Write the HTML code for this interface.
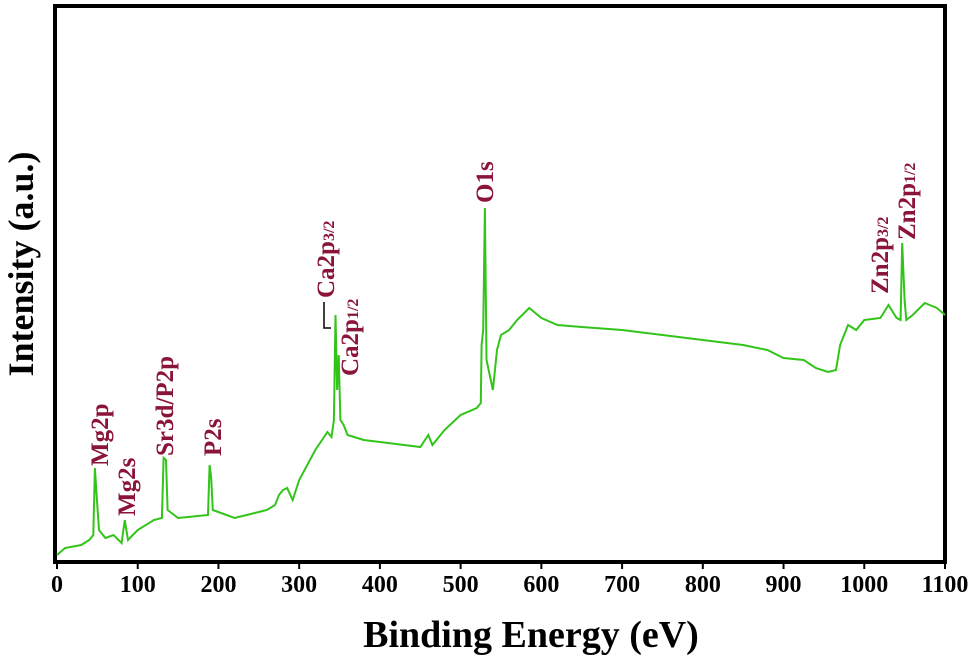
<!DOCTYPE html>
<html><head><meta charset="utf-8"><style>
html,body{margin:0;padding:0;background:#fff;}
svg{display:block;font-family:"Liberation Serif",serif;}
.tick{font-size:24px;font-weight:bold;fill:#000;}
.pk{font-size:25px;font-weight:bold;fill:#8a1538;}
.sub{font-size:16px;}
</style></head><body>
<svg id="chart" width="979" height="666" viewBox="0 0 979 666">
<rect x="55" y="6" width="890" height="556" fill="none" stroke="#000" stroke-width="4"/>
<g id="xticks"></g>
<path id="spectrum" fill="none" stroke="#33c41a" stroke-width="2"/>
<text x="531" y="647" text-anchor="middle" style="font-size:38px;font-weight:bold">Binding Energy (eV)</text>
<text transform="translate(33,264) rotate(-90)" text-anchor="middle" style="font-size:36px;font-weight:bold">Intensity (a.u.)</text>
<text class="pk" transform="translate(108,466) rotate(-90)">Mg2p</text>
<text class="pk" transform="translate(135,516) rotate(-90)">Mg2s</text>
<text class="pk" transform="translate(173,456) rotate(-90)">Sr3d/P2p</text>
<text class="pk" transform="translate(221,456) rotate(-90)">P2s</text>
<text class="pk" transform="translate(334,298) rotate(-90)">Ca2p<tspan class="sub">3/2</tspan></text>
<text class="pk" transform="translate(358,376) rotate(-90)">Ca2p<tspan class="sub">1/2</tspan></text>
<path d="M324,302 L324,328 L331,328" fill="none" stroke="#000" stroke-width="1.5"/>
<text class="pk" transform="translate(493,203) rotate(-90)">O1s</text>
<text class="pk" transform="translate(888,294) rotate(-90)">Zn2p<tspan class="sub">3/2</tspan></text>
<text class="pk" transform="translate(915,240) rotate(-90)">Zn2p<tspan class="sub">1/2</tspan></text>
</svg>
<script>
const energies=[0,10,30,40,45,47,49,52,60,70,80,84,88,100,120,130,132,135,137,150,187,189,191,193,220,260,270,275,280,285,292,300,320,335,340,343,345,347,349,351,355,360,380,450,460,465,480,500,520,525,526,528,530,532,536,540,545,550,560,570,585,600,620,650,700,750,800,850,880,900,925,940,955,965,970,980,990,1000,1020,1030,1040,1045,1047,1050,1052,1060,1075,1090,1100];
const intensities=[7,14,17,22,27,94,67,32,24,27,19,42,22,32,42,44,104,102,52,44,47,97,84,52,44,52,57,67,72,74,62,82,112,130,125,142,247,172,207,142,137,127,122,115,127,117,132,147,154,159,217,232,354,202,187,172,212,227,232,242,254,244,237,235,232,227,222,217,212,204,202,194,190,192,217,237,232,242,244,257,244,242,319,262,242,247,259,254,247];
const xTicks=[0,100,200,300,400,500,600,700,800,900,1000,1100];
const X0=57,X1=945,Y0=562,Y1=8;
const xs=v=>X0+(v/1100)*(X1-X0);
const ys=v=>Y0-(v/554)*(Y0-Y1);
const ns="http://www.w3.org/2000/svg";
let d="";
energies.forEach((e,i)=>{d+=(i?"L":"M")+xs(e).toFixed(1)+","+ys(intensities[i]).toFixed(1);});
document.getElementById("spectrum").setAttribute("d",d);
const g=document.getElementById("xticks");
xTicks.forEach(t=>{
  const l=document.createElementNS(ns,"line");
  l.setAttribute("x1",xs(t));l.setAttribute("x2",xs(t));
  l.setAttribute("y1",Y0);l.setAttribute("y2",Y0+7);
  l.setAttribute("stroke","#000");l.setAttribute("stroke-width","2");
  
  
  g.appendChild(l);
  const tx=document.createElementNS(ns,"text");
  tx.setAttribute("x",xs(t));tx.setAttribute("y",Y0+30);
  tx.setAttribute("text-anchor","middle");tx.setAttribute("class","tick");
  tx.textContent=t;
  
  
  g.appendChild(tx);
});
</script>
</body></html>
